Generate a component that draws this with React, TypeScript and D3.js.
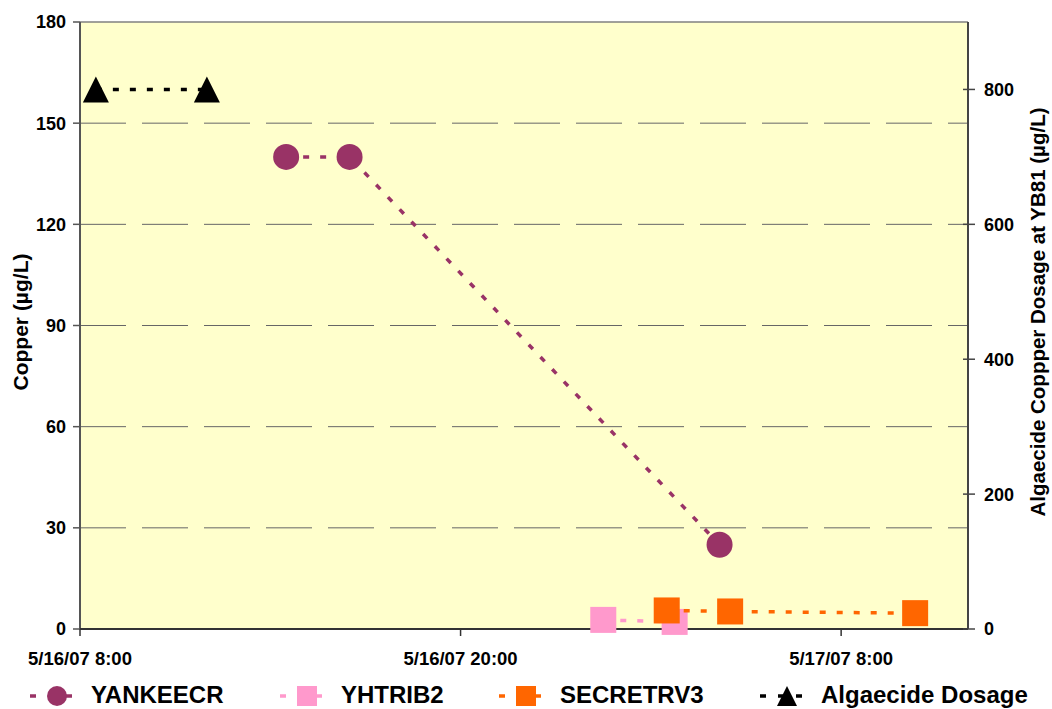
import React from "react";
import * as d3 from "d3";

const D = (day: number, h: number, m: number) => new Date(2007, 4, day, h, m);

const yankeeTimes = [D(16, 14, 30), D(16, 16, 30), D(17, 4, 10)];
const yankeeValues = [140, 140, 25];
const yhtribTimes = [D(17, 0, 30), D(17, 2, 45)];
const yhtribValues = [2.7, 2.1];
const secretTimes = [D(17, 2, 30), D(17, 4, 30), D(17, 10, 20)];
const secretValues = [5.5, 5.2, 4.7];
const algaeTimes = [D(16, 8, 30), D(16, 12, 0)];
const algaeValues = [800, 800];

const leftTicks = [0, 30, 60, 90, 120, 150, 180];
const rightTicks = [0, 200, 400, 600, 800];
const xTicks = [D(16, 8, 0), D(16, 20, 0), D(17, 8, 0)];

const W = 1052, H = 709;
const L = 80, R = 968, T = 22, B = 629;
const font = "Arial, 'Liberation Sans', sans-serif";

const x = d3.scaleTime().domain([D(16, 8, 0), D(17, 12, 0)]).range([L, R]);
const yL = d3.scaleLinear().domain([0, 180]).range([B, T]);
const yR = d3.scaleLinear().domain([0, 900]).range([B, T]);
const fmt = d3.timeFormat("%-m/%-d/%y %-H:%M");

type Series = { name: string; times: Date[]; values: number[]; color: string; shape: string; scale: any };
const series: Series[] = [
  { name: "YANKEECR", times: yankeeTimes, values: yankeeValues, color: "#993366", shape: "circle", scale: yL },
  { name: "YHTRIB2", times: yhtribTimes, values: yhtribValues, color: "#FF99CC", shape: "square", scale: yL },
  { name: "SECRETRV3", times: secretTimes, values: secretValues, color: "#FF6600", shape: "square", scale: yL },
  { name: "Algaecide Dosage", times: algaeTimes, values: algaeValues, color: "#000000", shape: "triangle", scale: yR },
];

function Marker({ shape, cx, cy, color, s }: { shape: string; cx: number; cy: number; color: string; s: number }) {
  if (shape === "circle") return <circle cx={cx} cy={cy} r={s / 2} fill={color} />;
  if (shape === "square") return <rect x={cx - s / 2} y={cy - s / 2} width={s} height={s} fill={color} />;
  const h = s;
  return <path d={`M${cx},${cy - h / 2}L${cx + s / 2},${cy + h / 2}L${cx - s / 2},${cy + h / 2}Z`} fill={color} />;
}

const legendX = [30, 280, 499, 760];

export default function App() {
  return (
    <svg width={W} height={H} style={{ position: "absolute", left: 0, top: 0 }} fontFamily={font}>
      <rect x={L} y={T} width={R - L} height={B - T} fill="#FFFFCC" />
      {leftTicks.slice(1, -1).map((t) => (
        <line key={t} x1={L} x2={R} y1={yL(t)} y2={yL(t)} stroke="#666" strokeWidth={1} strokeDasharray="46,16" />
      ))}
      <line x1={L} x2={R} y1={T} y2={T} stroke="#808080" strokeWidth={1.5} />
      <line x1={L} x2={L} y1={T} y2={B} stroke="#555" strokeWidth={2} />
      <line x1={R} x2={R} y1={T} y2={B} stroke="#444" strokeWidth={2} />
      <line x1={L} x2={R} y1={B} y2={B} stroke="#333" strokeWidth={2} />
      {leftTicks.map((t) => (
        <g key={t}>
          <line x1={L - 7} x2={L} y1={yL(t)} y2={yL(t)} stroke="#555" strokeWidth={1.5} />
          <text x={L - 14} y={yL(t)} dy="0.36em" textAnchor="end" fontSize={18} fontWeight="bold">{t}</text>
        </g>
      ))}
      {rightTicks.map((t) => (
        <g key={t}>
          <line x1={R - 5} x2={R + 7} y1={yR(t)} y2={yR(t)} stroke="#444" strokeWidth={1.5} />
          <text x={R + 16} y={yR(t)} dy="0.36em" textAnchor="start" fontSize={18} fontWeight="bold">{t}</text>
        </g>
      ))}
      {xTicks.map((t, i) => (
        <g key={i}>
          <line x1={x(t)} x2={x(t)} y1={B} y2={B + 7} stroke="#333" strokeWidth={1.5} />
          <text x={x(t)} y={B + 36} textAnchor="middle" fontSize={18.5} fontWeight="bold">{fmt(t)}</text>
        </g>
      ))}
      <text transform={`translate(28,322) rotate(-90)`} textAnchor="middle" fontSize={21} fontWeight="bold">Copper (µg/L)</text>
      <text transform={`translate(1045,312) rotate(-90)`} textAnchor="middle" fontSize={20.5} fontWeight="bold">Algaecide Coppper Dosage at YB81 (µg/L)</text>
      {series.map((s) => {
        const line = d3.line<number>().x((_, i) => x(s.times[i])).y((v) => s.scale(v));
        return (
          <g key={s.name}>
            <path d={line(s.values) || ""} fill="none" stroke={s.color} strokeWidth={3.5} strokeDasharray="6,11" />
            {s.values.map((v, i) => (
              <Marker key={i} shape={s.shape} cx={x(s.times[i])} cy={s.scale(v)} color={s.color} s={26} />
            ))}
          </g>
        );
      })}
      {series.map((s, i) => (
        <g key={s.name}>
          <line x1={legendX[i]} x2={legendX[i] + 54} y1={696} y2={696} stroke={s.color} strokeWidth={3.5} strokeDasharray="6,12" />
          <Marker shape={s.shape} cx={legendX[i] + 27} cy={696} color={s.color} s={20} />
          <text x={legendX[i] + 61} y={703} fontSize={24} fontWeight="bold">{s.name}</text>
        </g>
      ))}
    </svg>
  );
}
